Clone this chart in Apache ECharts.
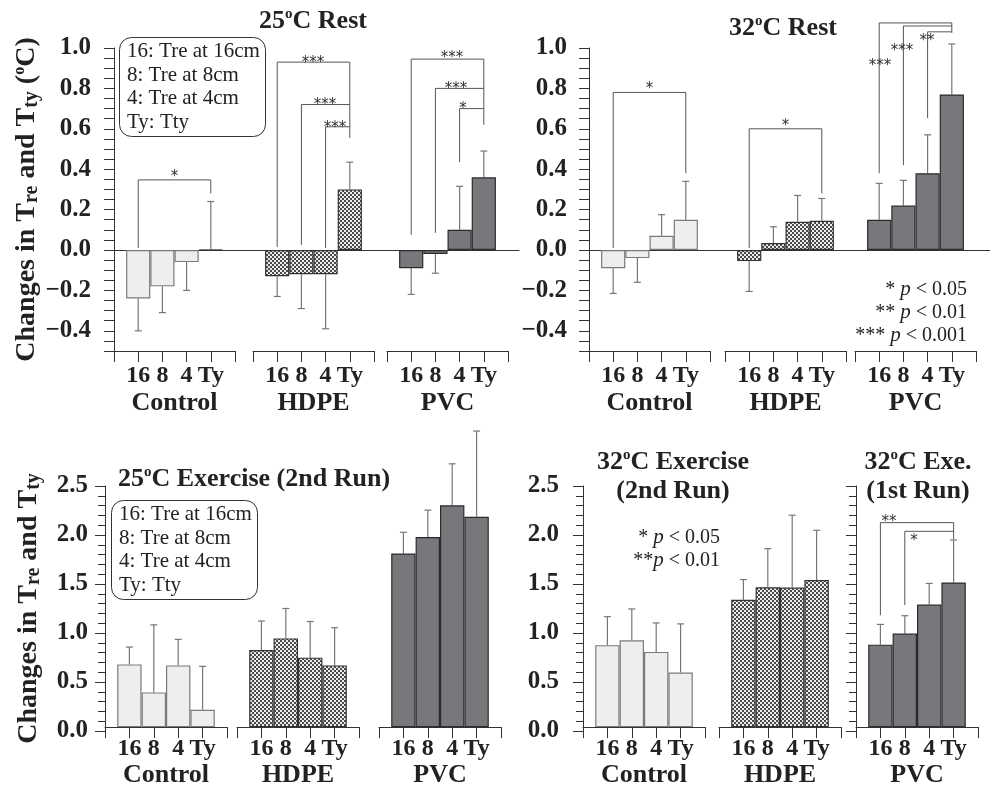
<!DOCTYPE html>
<html>
<head>
<meta charset="utf-8">
<script src="https://cdn.jsdelivr.net/npm/echarts@6/dist/echarts.min.js"></script>
<style>html,body{margin:0;background:#fff}#chart{width:990px;height:789px}</style>
</head>
<body>
<div id="chart"></div>
<script>
// categories on each group axis (empty slots pad the ends of the axis)
const categories = ['', '16', '8', '4', 'Ty', ''];
const groupNames = ['Control', 'HDPE', 'PVC'];

// mean change and SD, one row per group: Control, HDPE, PVC
const rest25Mean = [[-0.24, -0.18, -0.06, 0.005], [-0.13, -0.12, -0.12, 0.30], [-0.09, -0.02, 0.10, 0.36]];
const rest25SD = [[0.16, 0.13, 0.14, 0.235], [0.10, 0.17, 0.27, 0.135], [0.13, 0.095, 0.215, 0.13]];
const rest32Mean = [[-0.09, -0.04, 0.07, 0.15], [-0.055, 0.035, 0.14, 0.145], [0.15, 0.22, 0.38, 0.77]];
const rest32SD = [[0.125, 0.12, 0.105, 0.19], [0.15, 0.08, 0.13, 0.11], [0.18, 0.125, 0.19, 0.25]];
const exe25Mean = [[0.65, 0.36, 0.64, 0.18], [0.80, 0.92, 0.72, 0.64], [1.80, 1.97, 2.30, 2.18]];
const exe25SD = [[0.18, 0.70, 0.27, 0.45], [0.30, 0.31, 0.375, 0.39], [0.22, 0.28, 0.43, 0.89]];
// 32°C exercise: Control and HDPE from the 2nd run, PVC from the 1st run
const exe32Mean = [[0.85, 0.90, 0.78, 0.565], [1.32, 1.45, 1.447, 1.526], [0.855, 0.97, 1.27, 1.50]];
const exe32SD = [[0.295, 0.325, 0.30, 0.505], [0.21, 0.40, 0.75, 0.515], [0.21, 0.185, 0.22, 0.44]];

// significance brackets: [from, to, top, left end, right end, star x, star y, stars]
const rest25Brackets = [
  [[1, 4, 0.347, 0.01, 0.28, 2.5, 0.38, '*']],
  [[1, 4, 0.93, 0.015, 0.555, 2.48, 0.945, '***'], [2, 4, 0.72, 0.025, 0.72, 2.98, 0.735, '***'], [3, 4, 0.61, 0.01, 0.61, 3.39, 0.625, '***']],
  [[1, 4, 0.945, 0.075, 0.62, 2.69, 0.97, '***'], [2, 4, 0.80, 0.085, 0.80, 2.85, 0.815, '***'], [3, 4, 0.70, 0.435, 0.70, 3.14, 0.715, '*']]
];
const rest32Brackets = [
  [[1, 4, 0.78, 0.01, 0.38, 2.5, 0.815, '*']],
  [[1, 4, 0.60, 0.01, 0.28, 2.5, 0.635, '*']],
  [[1, 4, 1.124, 0.38, 1.075, 1.03, 0.93, '***'], [2, 4, 1.109, 0.42, 1.109, 1.94, 1.005, '***'], [3, 4, 1.08, 0.653, 1.08, 2.98, 1.055, '**']]
];
const exe25Brackets = [[], [], []];
const exe32Brackets = [
  [], [],
  [[1, 4, 2.12, 1.16, 1.95, 1.35, 2.17, '**'], [2, 4, 2.03, 1.265, 2.03, 2.38, 1.97, '*']]
];

const SERIF = '"Liberation Serif", "Times New Roman", serif';
const INK = '#222';
const LINE = '#333';

function hatch() {
  const c = document.createElement('canvas');
  c.width = 4; c.height = 4;
  const g = c.getContext('2d');
  g.fillStyle = '#ececec'; g.fillRect(0, 0, 4, 4);
  g.fillStyle = '#4a4a4a'; g.fillRect(0, 0, 2, 2); g.fillRect(2, 2, 2, 2);
  return c;
}
const barStyles = [
  {color: '#eeeeee', borderColor: '#7a7a7a', borderWidth: 1.2},
  {color: {image: hatch(), repeat: 'repeat'}, borderColor: '#333', borderWidth: 1.2},
  {color: '#77787c', borderColor: '#2b2b2b', borderWidth: 1.2}
];

const subRich = {
  sub: {fontFamily: SERIF, fontWeight: 'bold', fontSize: 20, lineHeight: 18, verticalAlign: 'bottom', color: INK},
  sup: {fontFamily: SERIF, fontWeight: 'bold', fontSize: 16, lineHeight: 15, verticalAlign: 'top', color: INK}
};

const panels = [
  {mean: rest25Mean, sd: rest25SD, brackets: rest25Brackets, top: 48, height: 303, min: -0.5, max: 1,
   axisX: 114, zeroEnd: 519, lefts: [114, 253, 387], width: 121, labelMargin: 23, nameGap: 70,
   yName: 'Changes in T{sub|re} and T{sub|ty} ({sup|o}C)'},
  {mean: rest32Mean, sd: rest32SD, brackets: rest32Brackets, top: 48, height: 303, min: -0.5, max: 1,
   axisX: 589, zeroEnd: 990, lefts: [589, 725, 855], width: 121, labelMargin: 22, nameGap: 0, yName: ''},
  {mean: exe25Mean, sd: exe25SD, brackets: exe25Brackets, top: 486, height: 245, min: 0, max: 2.5,
   axisX: 105, lefts: [105, 237, 379], width: 122, labelMargin: 17, nameGap: 61,
   yName: 'Changes in T{sub|re} and T{sub|ty}'},
  {mean: exe32Mean, sd: exe32SD, brackets: exe32Brackets, top: 486, height: 245, min: 0, max: 2.5,
   axisX: 583, extraAxisX: 856, lefts: [583, 719, 856], width: 122, labelMargin: 24, nameGap: 0, yName: ''}
];

const grid = [], xAxis = [], yAxis = [], series = [];

function fmt(v) {
  return (v < 0 ? '\u2212' : '') + Math.abs(v).toFixed(1);
}

function valueY(p, gi, showLabels) {
  const isTop = p.min < 0;
  return {
    gridIndex: gi, type: 'value', min: p.min, max: p.max, interval: isTop ? 0.05 : 0.5,
    axisLine: {show: true, onZero: false, lineStyle: {color: LINE}},
    axisTick: {show: true, length: 10, lineStyle: {color: LINE}},
    minorTick: {show: !isTop, splitNumber: 5, length: 7, lineStyle: {color: LINE}},
    splitLine: {show: false},
    axisLabel: {
      show: showLabels, margin: p.labelMargin, fontFamily: SERIF, fontWeight: 'bold', fontSize: 25, color: INK,
      formatter: v => {
        if (!isTop) return v.toFixed(1);
        const k = Math.round(v * 100);
        return (k % 20 === 0 && k >= -40) ? fmt(v) : '';
      }
    },
    name: showLabels ? p.yName : '', nameLocation: 'middle', nameGap: p.nameGap,
    nameTextStyle: {fontFamily: SERIF, fontWeight: 'bold', fontSize: 28, lineHeight: 30, color: INK, rich: subRich}
  };
}

function addGrid(left, top, width, height) {
  grid.push({left, top, width, height, containLabel: false});
  return grid.length - 1;
}

function xAt(api, x, y) {
  const i = Math.floor(x), f = x - i;
  const a = api.coord([i, y]), b = api.coord([i + 1, y]);
  return [a[0] + (b[0] - a[0]) * f, a[1]];
}

function drawError(params, api) {
  const x = api.value(0), m = api.value(1), s = api.value(2);
  const end = m < 0 ? m - s : m + s;
  const p0 = api.coord([x, m]), p1 = api.coord([x, end]);
  const st = {stroke: '#777', lineWidth: 1.2};
  return {type: 'group', children: [
    {type: 'line', shape: {x1: p0[0], y1: p0[1], x2: p1[0], y2: p1[1]}, style: st},
    {type: 'line', shape: {x1: p1[0] - 3.5, y1: p1[1], x2: p1[0] + 3.5, y2: p1[1]}, style: st}
  ]};
}

function drawBracket(b, api) {
  const [from, to, top, le, re, sx, sy, stars] = b;
  const pts = [api.coord([from, le]), api.coord([from, top]), api.coord([to, top]), api.coord([to, re])];
  const s = xAt(api, sx, sy);
  return {type: 'group', children: [
    {type: 'polyline', shape: {points: pts}, style: {stroke: '#555', lineWidth: 1, fill: 'none'}},
    {type: 'text', style: {text: stars, x: s[0], y: s[1] + 4, align: 'center', verticalAlign: 'middle',
      fontSize: 15, fontFamily: '"DejaVu Sans", sans-serif', fill: '#333'}}
  ]};
}

panels.forEach(p => {
  const isTop = p.min < 0;
  // panel y axis (and the zero line for the rest panels)
  const gi = addGrid(p.axisX, p.top, (p.zeroEnd || p.axisX + 10) - p.axisX, p.height);
  xAxis.push({gridIndex: gi, type: 'value', min: 0, max: 1, show: isTop,
    axisLine: {show: true, onZero: true, lineStyle: {color: LINE}},
    axisTick: {show: false}, axisLabel: {show: false}, splitLine: {show: false}});
  yAxis.push(valueY(p, gi, true));

  if (p.extraAxisX) {
    const ei = addGrid(p.extraAxisX, p.top, 10, p.height);
    xAxis.push({gridIndex: ei, type: 'value', show: false});
    yAxis.push(valueY(p, ei, false));
  }

  p.lefts.forEach((left, k) => {
    const g = addGrid(left, p.top, p.width, p.height);
    xAxis.push({
      gridIndex: g, type: 'category', boundaryGap: false, data: categories, position: 'bottom',
      axisLine: {onZero: false, lineStyle: {color: LINE}},
      axisTick: {show: true, interval: 0, length: 11, lineStyle: {color: LINE}},
      axisLabel: {interval: 0, margin: isTop ? 13 : 10, fontFamily: SERIF, fontWeight: 'bold', fontSize: 24, color: INK},
      name: groupNames[k], nameLocation: 'middle', nameGap: isTop ? 39 : 32,
      nameTextStyle: {fontFamily: SERIF, fontWeight: 'bold', fontSize: 26, color: INK}
    });
    yAxis.push({gridIndex: g, type: 'value', min: p.min, max: p.max, show: false});

    series.push({
      type: 'bar', xAxisIndex: g, yAxisIndex: g, silent: true, barWidth: '100%',
      data: ['-'].concat(p.mean[k], ['-']), itemStyle: barStyles[k]
    });
    series.push({
      type: 'custom', xAxisIndex: g, yAxisIndex: g, silent: true, clip: false,
      data: p.mean[k].map((m, i) => [i + 1, m, p.sd[k][i]]), renderItem: drawError
    });
    const br = p.brackets[k];
    if (br.length) {
      series.push({
        type: 'custom', xAxisIndex: g, yAxisIndex: g, silent: true, clip: false,
        data: br.map(b => [b[0], b[2]]),
        renderItem: (params, api) => drawBracket(br[params.dataIndex], api)
      });
    }
  });
});

const titleText = {fontFamily: SERIF, fontWeight: 'bold', fontSize: 26, lineHeight: 29, color: INK,
  rich: {sup: {fontFamily: SERIF, fontWeight: 'bold', fontSize: 15, lineHeight: 15, verticalAlign: 'top', color: INK}}};
const boxText = {fontFamily: SERIF, fontWeight: 'normal', fontSize: 21, lineHeight: 23.5, color: INK};
const noteText = {fontFamily: SERIF, fontWeight: 'normal', fontSize: 20, lineHeight: 23, color: INK,
  rich: {i: {fontFamily: SERIF, fontStyle: 'italic', fontSize: 21, color: INK}}};
const legendLines = '16: Tre at 16cm\n8: Tre at 8cm\n4: Tre at 4cm\nTy: Tty';

const title = [
  {text: '25{sup|o}C Rest', left: 313, top: 7, textAlign: 'center', padding: 0, textStyle: titleText},
  {text: '32{sup|o}C Rest', left: 783, top: 14, textAlign: 'center', padding: 0, textStyle: titleText},
  {text: '25{sup|o}C Exercise (2nd Run)', left: 254, top: 465, textAlign: 'center', padding: 0, textStyle: titleText},
  {text: '32{sup|o}C Exercise\n(2nd Run)', left: 673, top: 448, textAlign: 'center', padding: 0, textStyle: titleText},
  {text: '32{sup|o}C Exe.\n(1st Run)', left: 918, top: 448, textAlign: 'center', padding: 0, textStyle: titleText},
  {text: legendLines, left: 119, top: 37, padding: [3, 6, 3, 8], borderWidth: 1, borderColor: '#333',
   borderRadius: 12, textStyle: boxText},
  {text: legendLines, left: 111, top: 500, padding: [3, 6, 3, 8], borderWidth: 1, borderColor: '#333',
   borderRadius: 12, textStyle: boxText},
  {text: '* {i|p} < 0.05\n** {i|p} < 0.01\n*** {i|p} < 0.001', left: 967, top: 278, textAlign: 'right',
   padding: 0, textStyle: noteText},
  {text: '* {i|p} < 0.05\n**{i|p} < 0.01', left: 720, top: 526, textAlign: 'right', padding: 0, textStyle: noteText}
];

const chart = echarts.init(document.getElementById('chart'));
chart.setOption({
  animation: false,
  backgroundColor: '#fff',
  title: title,
  grid: grid,
  xAxis: xAxis,
  yAxis: yAxis,
  series: series
});
</script>
</body>
</html>
